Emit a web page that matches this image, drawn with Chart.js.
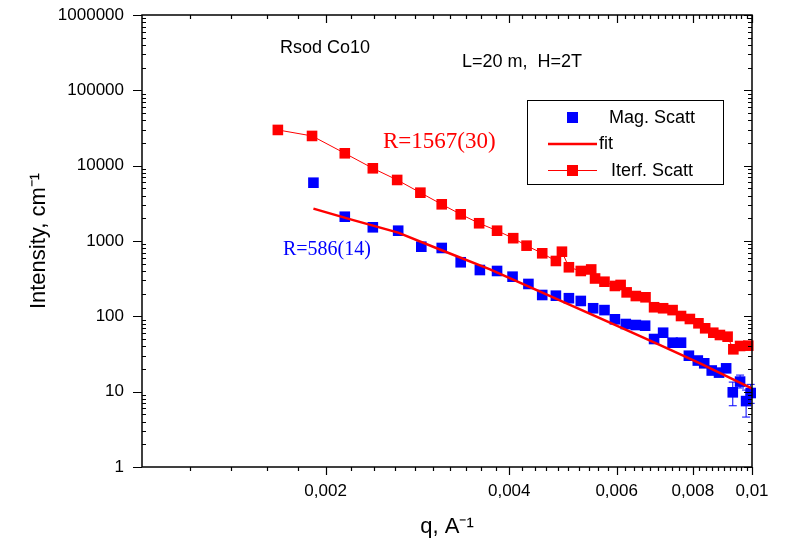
<!DOCTYPE html>
<html>
<head>
<meta charset="utf-8">
<script src="https://cdn.jsdelivr.net/npm/chart.js@4.4.1/dist/chart.umd.min.js"></script>
<style>
    html, body { margin: 0; padding: 0; background: #fff; }
</style>
</head>
<body>
<canvas id="sansChart" width="786" height="544"></canvas>
<script>
// magnetic scattering, q in 1/A, intensity in 1/cm
var magQ = [0.00191, 0.00215, 0.00239, 0.00263, 0.00287, 0.00310, 0.00333, 0.00358, 0.00382, 0.00405,
            0.00430, 0.00453, 0.00477, 0.00501, 0.00524, 0.00549, 0.00573, 0.00596, 0.00621, 0.00645,
            0.00668, 0.00691, 0.00715, 0.00741, 0.00765, 0.00788, 0.00815, 0.00835, 0.00859, 0.00883,
            0.00907, 0.00930, 0.00956, 0.00978, 0.00995];
var magI = [5940, 2100, 1520, 1370, 840, 808, 522, 412, 400, 336,
            269, 192, 188, 174, 160, 128, 121, 91.3, 79.1, 76.7,
            75.1, 50.0, 60.6, 44.7, 44.7, 30.0, 25.9, 23.8, 19.1, 17.9,
            20.4, 9.8, 13.6, 7.5, 9.6];

// error bars on the last magnetic points
var errQ = [0.00859, 0.00883, 0.00907, 0.00930, 0.00956, 0.00978, 0.00995];
var errLo = [16.8, 16.0, 18.0, 6.5, 11.2, 4.6, 7.0];
var errHi = [21.5, 20.0, 23.0, 13.4, 16.6, 10.5, 12.5];

// interference scattering
var intQ = [0.00167, 0.00190, 0.00215, 0.00239, 0.00262, 0.00286, 0.00310, 0.00333, 0.00357, 0.00382,
            0.00406, 0.00427, 0.00453, 0.00477, 0.00488, 0.00501, 0.00524, 0.00545, 0.00553, 0.00573,
            0.00596, 0.00609, 0.00623, 0.00645, 0.00669, 0.00691, 0.00715, 0.00741, 0.00765, 0.00791,
            0.00817, 0.00838, 0.00864, 0.00886, 0.00912, 0.00932, 0.00956, 0.00986];
var intI = [29800, 24800, 14600, 9230, 6460, 4380, 3070, 2260, 1720, 1370,
            1090, 867, 687, 543, 721, 448, 400, 419, 318, 288,
            253, 261, 208, 186, 179, 132, 128, 121, 101, 92.2,
            80.8, 69.4, 60.6, 56.5, 53.7, 36.5, 40.4, 40.8];

// fitted curve for the magnetic part
var fitQ = [0.00191, 0.00219, 0.00263, 0.00310, 0.00372, 0.00440, 0.00503, 0.00600, 0.00707, 0.00822, 0.00999];
var fitI = [2690, 1950, 1290, 753, 421, 230, 142, 75.1, 41.6, 23.7, 11.1];

var qTicks = [0.002, 0.004, 0.006, 0.008, 0.01];
var iTicks = [1, 10, 100, 1000, 10000, 100000, 1000000];

var BLUE = '#0000ff';
var RED = '#ff0000';
var SANS = '"Liberation Sans", Arial, sans-serif';
var SERIF = '"Liberation Serif", "Times New Roman", serif';

function toPts(xs, ys) {
    return xs.map(function (x, i) { return { x: x, y: ys[i] }; });
}

// minor tick values for the log axes
var qMinor = [];
for (var k = 6; k < 50; k++) {
    var v = k * 0.0002;
    if (k % 10 != 0) qMinor.push(v);
}
var iMinor = [];
for (var d = 1; d < 1000000; d *= 10) {
    for (var m = 2; m < 10; m++) iMinor.push(m * d);
}

var framePlugin = {
    id: 'frame',
    beforeDatasetsDraw: function (chart) {
        var ctx = chart.ctx, xs = chart.scales.x, ys = chart.scales.y;
        ctx.save();
        ctx.strokeStyle = BLUE;
        ctx.lineWidth = 1;
        errQ.forEach(function (q, i) {
            var px = xs.getPixelForValue(q);
            var y1 = ys.getPixelForValue(errLo[i]);
            var y2 = ys.getPixelForValue(errHi[i]);
            ctx.beginPath();
            ctx.moveTo(px, y1); ctx.lineTo(px, y2);
            ctx.moveTo(px - 4, y1); ctx.lineTo(px + 4, y1);
            ctx.moveTo(px - 4, y2); ctx.lineTo(px + 4, y2);
            ctx.stroke();
        });
        ctx.restore();
    },
    afterDraw: function (chart) {
        var ctx = chart.ctx, a = chart.chartArea, xs = chart.scales.x, ys = chart.scales.y;
        ctx.save();
        ctx.strokeStyle = '#000';
        ctx.lineWidth = 1.5;
        ctx.strokeRect(a.left, a.top, a.right - a.left, a.bottom - a.top);

        ctx.lineWidth = 1.2;
        ctx.beginPath();
        qTicks.forEach(function (q) {
            var px = Math.round(xs.getPixelForValue(q)) + 0.5;
            ctx.moveTo(px, a.bottom); ctx.lineTo(px, a.bottom + 8);
            ctx.moveTo(px, a.top); ctx.lineTo(px, a.top + 8);
        });
        qMinor.forEach(function (q) {
            var px = Math.round(xs.getPixelForValue(q)) + 0.5;
            ctx.moveTo(px, a.bottom); ctx.lineTo(px, a.bottom + 4);
            ctx.moveTo(px, a.top); ctx.lineTo(px, a.top + 4);
        });
        iTicks.forEach(function (v) {
            var py = Math.round(ys.getPixelForValue(v)) + 0.5;
            ctx.moveTo(a.left - 9, py); ctx.lineTo(a.left, py);
            ctx.moveTo(a.right, py); ctx.lineTo(a.right - 8, py);
        });
        iMinor.forEach(function (v) {
            var py = Math.round(ys.getPixelForValue(v)) + 0.5;
            ctx.moveTo(a.left, py); ctx.lineTo(a.left + 4, py);
            ctx.moveTo(a.right, py); ctx.lineTo(a.right - 4, py);
        });
        ctx.stroke();

        // legend box
        ctx.lineWidth = 1;
        ctx.strokeRect(527.5, 100.5, 196, 84);
        ctx.fillStyle = BLUE;
        ctx.fillRect(567, 112, 11, 11);
        ctx.strokeStyle = RED;
        ctx.lineWidth = 2.5;
        ctx.beginPath(); ctx.moveTo(548, 144); ctx.lineTo(597, 144); ctx.stroke();
        ctx.lineWidth = 1;
        ctx.beginPath(); ctx.moveTo(548, 170.5); ctx.lineTo(597, 170.5); ctx.stroke();
        ctx.fillStyle = RED;
        ctx.fillRect(567, 165, 11, 11);

        ctx.fillStyle = '#000';
        ctx.font = '18px ' + SANS;
        ctx.textBaseline = 'middle';
        ctx.fillText('Mag. Scatt', 609, 118);
        ctx.fillText('fit', 599, 144);
        ctx.fillText('Iterf. Scatt', 611, 171);

        // sample and setup notes
        ctx.textBaseline = 'alphabetic';
        ctx.fillText('Rsod Co10', 280, 53);
        ctx.fillText('L=20 m,  H=2T', 462, 67);

        ctx.font = '23px ' + SERIF;
        ctx.fillStyle = RED;
        ctx.fillText('R=1567(30)', 383, 148);
        ctx.font = '20px ' + SERIF;
        ctx.fillStyle = BLUE;
        ctx.fillText('R=586(14)', 283, 255);
        ctx.restore();
    }
};

var ctx = document.getElementById('sansChart');

var data = {
    datasets: [{
        label: 'fit',
        data: toPts(fitQ, fitI),
        showLine: true,
        borderColor: RED,
        borderWidth: 2.5,
        pointRadius: 0,
        order: 0
    }, {
        label: 'Mag. Scatt',
        data: toPts(magQ, magI),
        pointStyle: 'rect',
        pointRadius: 7.5,
        pointBorderWidth: 0,
        pointBackgroundColor: BLUE,
        backgroundColor: BLUE,
        borderColor: BLUE,
        order: 1
    }, {
        label: 'Iterf. Scatt',
        data: toPts(intQ, intI),
        showLine: true,
        borderColor: RED,
        borderWidth: 1,
        pointStyle: 'rect',
        pointRadius: 7.5,
        pointBorderWidth: 0,
        pointBackgroundColor: RED,
        backgroundColor: RED,
        order: 2
    }]
};

var option = {
    responsive: false,
    animation: false,
    clip: false,
    layout: { padding: { top: 15, right: 34, left: 0, bottom: 0 } },
    plugins: {
        legend: { display: false },
        tooltip: { enabled: false }
    },
    scales: {
        x: {
            type: 'logarithmic',
            min: 0.001,
            max: 0.01,
            afterBuildTicks: function (s) { s.ticks = qTicks.map(function (v) { return { value: v }; }); },
            afterFit: function (s) { s.height = 77; s.paddingLeft = 0; s.paddingRight = 0; },
            grid: { display: false, drawTicks: false },
            border: { display: false },
            ticks: {
                autoSkip: false,
                maxRotation: 0,
                padding: 14,
                color: '#000',
                font: { family: SANS, size: 17 },
                callback: function (v) { return String(v).replace('.', ','); }
            },
            title: {
                display: true,
                text: 'q, A⁻¹',
                color: '#000',
                font: { family: SANS, size: 22 },
                padding: { top: 0, bottom: 4 }
            }
        },
        y: {
            type: 'logarithmic',
            min: 1,
            max: 1000000,
            afterBuildTicks: function (s) { s.ticks = iTicks.map(function (v) { return { value: v }; }); },
            afterFit: function (s) { s.width = 142; s.paddingTop = 0; s.paddingBottom = 0; },
            grid: { display: false, drawTicks: false },
            border: { display: false },
            ticks: {
                autoSkip: false,
                padding: 18,
                color: '#000',
                font: { family: SANS, size: 17 },
                callback: function (v) { return String(v); }
            },
            title: {
                display: true,
                text: 'Intensity, cm⁻¹',
                color: '#000',
                font: { family: SANS, size: 22 },
                padding: { top: 26, bottom: 0 }
            }
        }
    }
};

var myChart = new Chart(ctx, {
    type: 'scatter',
    data: data,
    options: option,
    plugins: [framePlugin]
});
</script>
</body>
</html>
